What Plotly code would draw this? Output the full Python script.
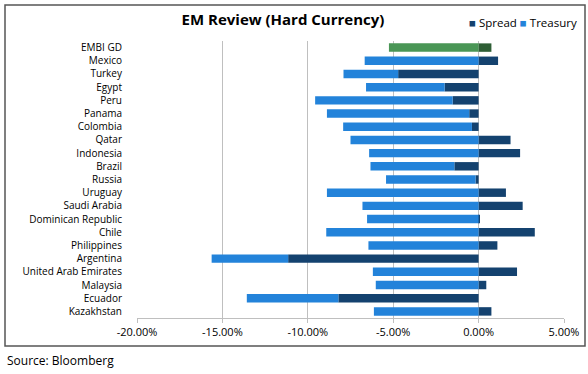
import plotly.graph_objects as go

countries = ["EMBI GD", "Mexico", "Turkey", "Egypt", "Peru", "Panama", "Colombia", "Qatar",
             "Indonesia", "Brazil", "Russia", "Uruguay", "Saudi Arabia", "Dominican Republic",
             "Chile", "Philippines", "Argentina", "United Arab Emirates", "Malaysia", "Ecuador",
             "Kazakhstan"]
spread = [0.75, 1.14, -4.71, -1.99, -1.52, -0.55, -0.39, 1.87, 2.43, -1.42, -0.18,
          1.60, 2.58, 0.08, 3.29, 1.10, -11.15, 2.25, 0.45, -8.21, 0.75]
treasury = [-5.25, -6.67, -3.20, -4.60, -8.05, -8.33, -7.54, -7.50, -6.41, -4.91, -5.24,
            -8.88, -6.80, -6.53, -8.92, -6.45, -4.48, -6.19, -6.02, -5.36, -6.13]
x_ticks = [-20, -15, -10, -5, 0, 5]
x_tick_labels = ["-20.00%", "-15.00%", "-10.00%", "-5.00%", "0.00%", "5.00%"]
benchmark = "EMBI GD"

SPREAD_C = "#14426F"
TREAS_C = "#2383DA"
BENCH_SPREAD_C = "#2E5E35"
BENCH_TREAS_C = "#4A9656"

idx_b = [i for i, c in enumerate(countries) if c == benchmark]
idx_o = [i for i, c in enumerate(countries) if c != benchmark]

fig = go.Figure()
W = 0.64
fig.add_trace(go.Bar(y=[countries[i] for i in idx_o], x=[spread[i] for i in idx_o],
                     orientation="h", name="Spread", marker=dict(color=SPREAD_C, line=dict(width=0)),
                     width=W, showlegend=False))
fig.add_trace(go.Bar(y=[countries[i] for i in idx_o], x=[treasury[i] for i in idx_o],
                     orientation="h", name="Treasury", marker=dict(color=TREAS_C, line=dict(width=0)),
                     width=W, showlegend=False))
fig.add_trace(go.Bar(y=[countries[i] for i in idx_b], x=[spread[i] for i in idx_b],
                     orientation="h", name="Spread", marker=dict(color=BENCH_SPREAD_C, line=dict(width=0)),
                     width=W, showlegend=False))
fig.add_trace(go.Bar(y=[countries[i] for i in idx_b], x=[treasury[i] for i in idx_b],
                     orientation="h", name="Treasury", marker=dict(color=BENCH_TREAS_C, line=dict(width=0)),
                     width=W, showlegend=False))

FONT = "Open Sans"
L, R, T, B = 137, 24, 41, 56
PW, PH = 588 - L - R, 374 - T - B


def px(x):
    return (x - L) / PW


def py(y):
    return (374 - B - y) / PH


legend_text = (f"<span style='color:{SPREAD_C}'>■</span> Spread "
               f"<span style='color:{TREAS_C}'>■</span> Treasury")

fig.update_layout(
    barmode="relative",
    width=588, height=374,
    margin=dict(l=L, r=R, t=T, b=B),
    paper_bgcolor="white", plot_bgcolor="white",
    font=dict(family=FONT, size=10, color="#000000"),
    title=dict(text="<b>EM Review (Hard Currency)</b>", x=px(283), xref="paper", xanchor="center",
               y=1 - 20 / 374, yref="container", yanchor="middle",
               font=dict(family=FONT, size=15, color="#000000")),
    showlegend=False,
    xaxis=dict(range=[-20, 5], tickvals=x_ticks, ticktext=x_tick_labels,
               showgrid=True, gridcolor="#BFBFBF", gridwidth=1,
               zeroline=True, zerolinecolor="#BFBFBF", zerolinewidth=1,
               showline=True, linecolor="#BFBFBF", linewidth=1,
               ticks="outside", ticklen=4, tickcolor="#BFBFBF",
               tickfont=dict(family=FONT, size=11), fixedrange=True, automargin=False),
    yaxis=dict(categoryorder="array", categoryarray=countries, autorange=False,
               range=[len(countries) - 0.5, -0.5],
               showgrid=False, showline=False, ticks="outside", ticklen=12,
               tickcolor="rgba(0,0,0,0)", tickfont=dict(family=FONT, size=10), automargin=False),
    shapes=[dict(type="rect", xref="paper", yref="paper",
                 x0=px(5), x1=px(585), y0=py(346), y1=py(5),
                 line=dict(color="#555555", width=1.5), fillcolor="rgba(0,0,0,0)", layer="below")],
    annotations=[
        dict(text="Source: Bloomberg", xref="paper", yref="paper",
             x=px(5), y=py(360), xanchor="left", yanchor="middle",
             showarrow=False, font=dict(family=FONT, size=12, color="#000000")),
        dict(text=legend_text, xref="paper", yref="paper",
             x=px(579), y=py(23), xanchor="right", yanchor="middle",
             showarrow=False, font=dict(family=FONT, size=11.5, color="#000000")),
    ],
)
fig.write_html("out.html", config={"displayModeBar": False},
               post_script="document.body.style.margin='0px';document.body.style.overflow='hidden';")
